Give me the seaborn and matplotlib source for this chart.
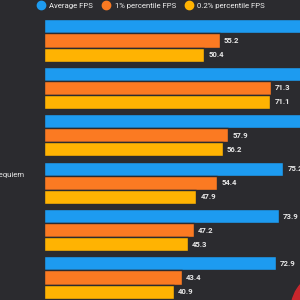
import matplotlib
matplotlib.use("Agg")
import matplotlib.pyplot as plt
import matplotlib.patches as mpatches
import matplotlib.transforms as mtransforms
from matplotlib.lines import Line2D
import seaborn as sns
import pandas as pd

# 数据（从图中读取，前三组平均值超出画面，为估计值）
games = ["g1", "g2", "g3", "requiem", "g5", "g6"]
tick_labels = ["", "", "", "requiem", "", ""]
series = ["Average FPS", "1% percentile FPS", "0.2% percentile FPS"]
avg_fps = [88.0, 95.0, 86.0, 75.2, 73.9, 72.9]
p1_fps = [55.2, 71.3, 57.9, 54.4, 47.2, 43.4]
p02_fps = [50.4, 71.1, 56.2, 47.9, 45.3, 40.9]
colors = ["#1d9bf0", "#fb7a22", "#ffb302"]

BG = "#2b2b2f"

df = pd.DataFrame({
    "game": games * 3,
    "series": [series[0]] * 6 + [series[1]] * 6 + [series[2]] * 6,
    "fps": avg_fps + p1_fps + p02_fps,
})

sns.set_theme(style="dark")
plt.rcParams["font.family"] = ["Roboto", "DejaVu Sans"]

fig = plt.figure(figsize=(3, 3), dpi=100, facecolor=BG)
ax = fig.add_axes([44 / 300, 0, 256 / 300, 1])
ax.set_facecolor(BG)

sns.barplot(data=df, y="game", x="fps", hue="series", order=games,
            hue_order=series, palette=colors, saturation=1, orient="h",
            width=0.89, edgecolor=BG, linewidth=1.0, legend=False, ax=ax)

for cont in ax.containers:
    ax.bar_label(cont, fmt="%.1f", padding=3, color="#e8e8e8",
                 fontsize=5.6, fontweight="bold")

ax.set_xlim(0, 80.5)
ax.set_ylim(5.475, -0.854)
ax.set_xlabel("")
ax.set_ylabel("")
ax.set_xticks([])
ax.set_yticks(range(len(games)))
ax.set_yticklabels(tick_labels, color="#e8e8e8", fontsize=5.6)
ax.tick_params(axis="y", length=0, pad=14)
# 标签略高于组中心
shift = mtransforms.ScaledTranslation(0, 8 / 100, fig.dpi_scale_trans)
for lbl in ax.get_yticklabels():
    lbl.set_transform(lbl.get_transform() + shift)
for s in ax.spines.values():
    s.set_visible(False)

handles = [Line2D([0], [0], marker="o", linestyle="", markersize=6,
                  markerfacecolor=c, markeredgecolor=c) for c in colors]
fig.legend(handles, series, loc="center", bbox_to_anchor=(0.497, 0.982),
           ncol=3, frameon=False, fontsize=5.6, labelcolor="#f0f0f0",
           handletextpad=0.05, columnspacing=0.7, borderaxespad=0)

# 右下角红色装饰
fig.patches.append(mpatches.Circle((330, -10), 39, transform=None,
                                   color="#c8262c"))

fig.savefig("out.png", dpi=100, facecolor=BG)
